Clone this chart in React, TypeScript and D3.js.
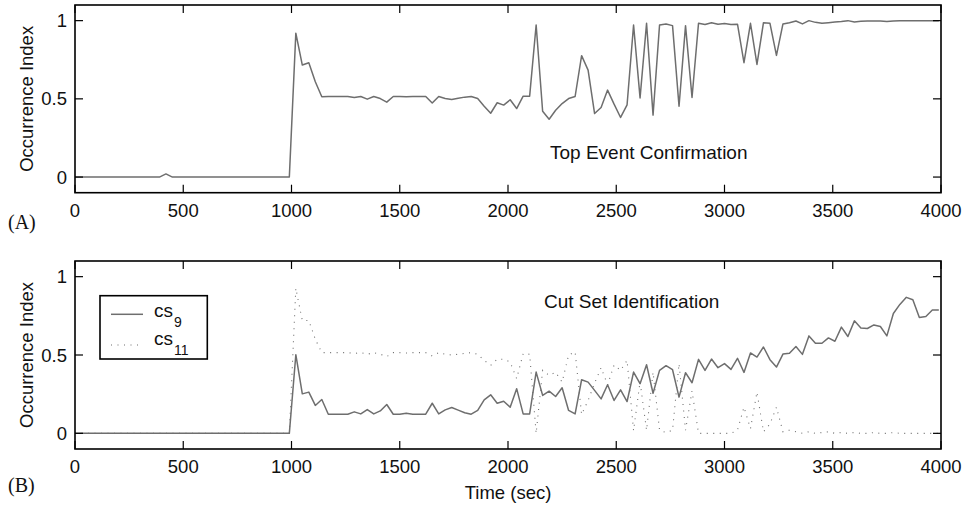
import React from "react";
import * as d3 from "d3";

// Sampling grid (every 30 s)
const times: number[] = d3.range(0, 4020, 30);

const topEvent: number[] = [
  0, 0, 0, 0, 0, 0, 0, 0, 0, 0, 0, 0, 0, 0, 0.02, 0, 0, 0, 0, 0,
  0, 0, 0, 0, 0, 0, 0, 0, 0, 0, 0, 0, 0, 0,
  0.92, 0.716, 0.731, 0.609, 0.513, 0.515, 0.515, 0.515, 0.515, 0.508,
  0.515, 0.498, 0.515, 0.502, 0.479, 0.515, 0.515, 0.513, 0.515, 0.515,
  0.515, 0.473, 0.515, 0.502, 0.496, 0.504, 0.511, 0.515, 0.502, 0.453,
  0.408, 0.475, 0.46, 0.494, 0.438, 0.517, 0.517, 0.972, 0.421, 0.37,
  0.427, 0.47, 0.502, 0.515, 0.776, 0.684, 0.406, 0.445, 0.556, 0.466,
  0.381, 0.462, 0.972, 0.506, 0.983, 0.396, 0.972, 0.979, 0.968, 0.453,
  0.968, 0.509, 0.983, 0.975, 0.987, 0.977, 0.981, 0.975, 0.977, 0.731,
  0.983, 0.72, 0.987, 0.983, 0.778, 0.979, 0.987, 0.998, 0.979, 1.0,
  0.989, 0.983, 0.987, 0.991, 0.994, 1.0, 0.991, 0.996, 0.998, 0.998,
  0.998, 0.994, 0.998, 1.0, 1.0, 1.0, 1.0, 1.0, 1.0, 1.0,
];

const cs9: number[] = [
  0, 0, 0, 0, 0, 0, 0, 0, 0, 0, 0, 0, 0, 0, 0, 0, 0, 0, 0, 0,
  0, 0, 0, 0, 0, 0, 0, 0, 0, 0, 0, 0, 0, 0,
  0.502, 0.252, 0.263, 0.178, 0.216, 0.122, 0.122, 0.122, 0.122, 0.137,
  0.124, 0.152, 0.124, 0.143, 0.184, 0.122, 0.122, 0.128, 0.122, 0.122,
  0.122, 0.192, 0.124, 0.15, 0.165, 0.148, 0.131, 0.122, 0.146, 0.214,
  0.246, 0.192, 0.205, 0.167, 0.285, 0.124, 0.124, 0.391, 0.242, 0.269,
  0.235, 0.291, 0.146, 0.124, 0.342, 0.327, 0.274, 0.22, 0.31, 0.21,
  0.278, 0.203, 0.391, 0.317, 0.438, 0.256, 0.402, 0.432, 0.406, 0.231,
  0.387, 0.323, 0.472, 0.402, 0.474, 0.419, 0.445, 0.408, 0.479, 0.389,
  0.513, 0.487, 0.551, 0.47, 0.423, 0.506, 0.511, 0.554, 0.504, 0.622,
  0.575, 0.575, 0.609, 0.588, 0.678, 0.618, 0.718, 0.673, 0.669, 0.692,
  0.682, 0.622, 0.765, 0.823, 0.868, 0.853, 0.74, 0.746, 0.787, 0.787,
];

const cs11: number[] = [
  0, 0, 0, 0, 0, 0, 0, 0, 0, 0, 0, 0, 0, 0, 0, 0, 0, 0, 0, 0,
  0, 0, 0, 0, 0, 0, 0, 0, 0, 0, 0, 0, 0, 0,
  0.926, 0.72, 0.72, 0.6, 0.515, 0.515, 0.515, 0.515, 0.515, 0.51,
  0.515, 0.505, 0.515, 0.505, 0.49, 0.515, 0.515, 0.513, 0.515, 0.515,
  0.515, 0.494, 0.515, 0.505, 0.5, 0.505, 0.51, 0.515, 0.505, 0.466,
  0.434, 0.473, 0.473, 0.455, 0.349, 0.509, 0.505, 0.0, 0.402, 0.37,
  0.39, 0.327, 0.5, 0.52, 0.12, 0.21, 0.32, 0.419, 0.31, 0.436,
  0.402, 0.466, 0.017, 0.33, 0.02, 0.39, 0.02, 0.005, 0.02, 0.445,
  0.02, 0.27, 0.0, 0.0, 0.0, 0.0, 0.0, 0.0, 0.02, 0.167,
  0.03, 0.263, 0.01, 0.06, 0.167, 0.01, 0.02, 0.01, 0.0, 0.01,
  0.0, 0.005, 0.01, 0.0, 0.005, 0.0, 0.005, 0.0, 0.0, 0.005,
  0.0, 0.0, 0.005, 0.0, 0.0, 0.0, 0.0, 0.0, 0.0, 0.0,
];

const xTicks: number[] = [0, 500, 1000, 1500, 2000, 2500, 3000, 3500, 4000];
const yTicks: number[] = [0, 0.5, 1];
const yTickLabels: string[] = ["0", "0.5", "1"];

const SANS = "'Liberation Sans', Arial, Helvetica, sans-serif";
const SERIF = "'Liberation Serif', 'Times New Roman', serif";
const LINE = "#6e6e6e";

const X0 = 75;
const X1 = 941;

type PanelProps = { top: number; bottom: number; children?: React.ReactNode };

function Panel({ top, bottom, children }: PanelProps) {
  const x = d3.scaleLinear().domain([0, 4000]).range([X0, X1]);
  const y = d3.scaleLinear().domain([-0.1, 1.1]).range([bottom, top]);
  const tl = 8;
  return (
    <g>
      {children && (children as any)(x, y)}
      <rect x={X0} y={top} width={X1 - X0} height={bottom - top} fill="none" stroke="#000" strokeWidth={1.6} />
      {xTicks.map((t) => (
        <g key={"x" + t}>
          <line x1={x(t)} x2={x(t)} y1={bottom} y2={bottom - tl} stroke="#000" strokeWidth={1.2} />
          <line x1={x(t)} x2={x(t)} y1={top} y2={top + tl} stroke="#000" strokeWidth={1.2} />
          <text x={x(t)} y={bottom + 24} textAnchor="middle" fontFamily={SANS} fontSize={18.5} fill="#111">
            {t}
          </text>
        </g>
      ))}
      {yTicks.map((v, i) => (
        <g key={"y" + v}>
          <line x1={X0} x2={X0 + tl} y1={y(v)} y2={y(v)} stroke="#000" strokeWidth={1.2} />
          <line x1={X1} x2={X1 - tl} y1={y(v)} y2={y(v)} stroke="#000" strokeWidth={1.2} />
          <text x={X0 - 8} y={y(v) + 6.5} textAnchor="end" fontFamily={SANS} fontSize={18.5} fill="#111">
            {yTickLabels[i]}
          </text>
        </g>
      ))}
      <text
        transform={`translate(${33},${(top + bottom) / 2}) rotate(-90)`}
        textAnchor="middle"
        fontFamily={SANS}
        fontSize={18.5}
        fill="#111"
      >
        Occurrence Index
      </text>
    </g>
  );
}

export default function App() {
  const mk = (vals: number[]) => (x: any, y: any) =>
    d3
      .line<number>()
      .x((_, i) => x(times[i]))
      .y((d) => y(d))(vals) || "";

  return (
    <svg
      width={964}
      height={508}
      viewBox="0 0 964 508"
      style={{ position: "absolute", left: 0, top: 0, background: "#fff" }}
    >
      <rect x={0} y={0} width={964} height={508} fill="#fff" />
      <Panel top={5} bottom={192.7}>
        {((x: any, y: any) => (
          <g>
            <path d={mk(topEvent)(x, y)} fill="none" stroke={LINE} strokeWidth={1.5} strokeLinejoin="round" />
            <text x={550} y={159} fontFamily={SANS} fontSize={19} fill="#111">
              Top Event Confirmation
            </text>
          </g>
        )) as any}
      </Panel>
      <Panel top={261} bottom={449}>
        {((x: any, y: any) => (
          <g>
            <path d={mk(cs11)(x, y)} fill="none" stroke={LINE} strokeWidth={1.1} strokeDasharray="1 5.5" />
            <path d={mk(cs9)(x, y)} fill="none" stroke={LINE} strokeWidth={1.5} strokeLinejoin="round" />
            <text x={544} y={308} fontFamily={SANS} fontSize={19} fill="#111">
              Cut Set Identification
            </text>
            <rect x={100} y={295.7} width={107.3} height={63.3} fill="#fff" stroke="#000" strokeWidth={1.6} />
            <line x1={111} x2={143} y1={314.3} y2={314.3} stroke={LINE} strokeWidth={1.5} />
            <line x1={111} x2={143} y1={345} y2={345} stroke={LINE} strokeWidth={1.1} strokeDasharray="1 5.5" />
            <text x={154} y={316.7} fontFamily={SANS} fontSize={19} fill="#111">
              cs
              <tspan dx={1} dy={10} fontSize={14}>9</tspan>
            </text>
            <text x={154} y={345} fontFamily={SANS} fontSize={19} fill="#111">
              cs
              <tspan dx={1} dy={10} fontSize={14}>11</tspan>
            </text>
          </g>
        )) as any}
      </Panel>
      <text x={8} y={229} fontFamily={SERIF} fontSize={20} fill="#111">(A)</text>
      <text x={8} y={492} fontFamily={SERIF} fontSize={20} fill="#111">(B)</text>
      <text x={508} y={499} textAnchor="middle" fontFamily={SANS} fontSize={18.5} fill="#111">
        Time (sec)
      </text>
    </svg>
  );
}
